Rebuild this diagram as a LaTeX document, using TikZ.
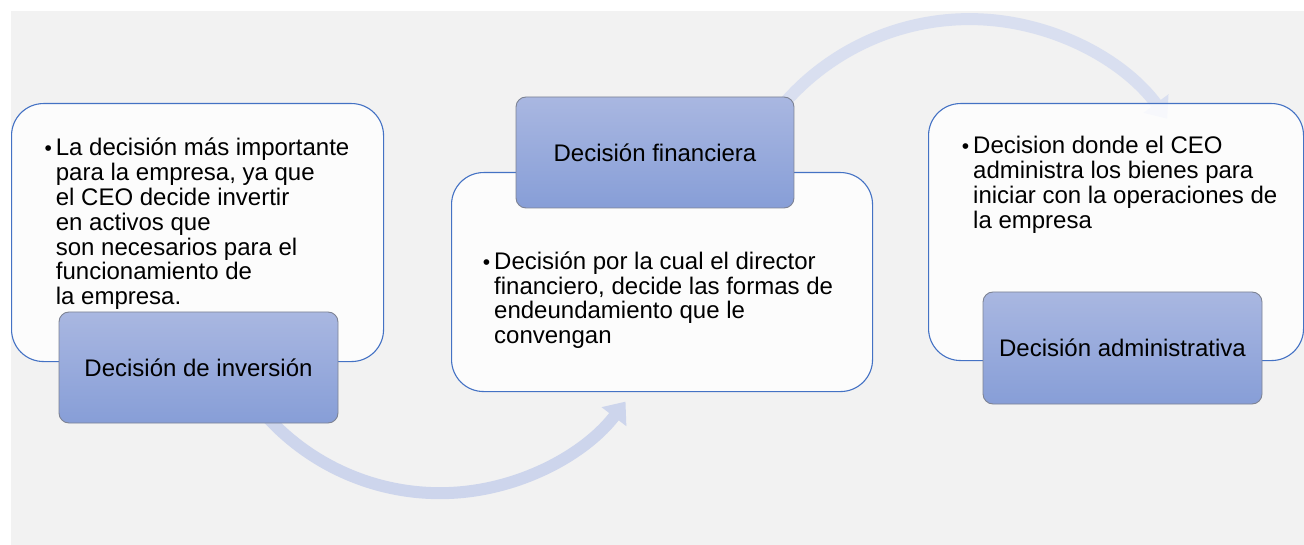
\documentclass[tikz,border=0pt]{standalone}
\usepackage{fontspec}
\setmainfont{Liberation Sans}
\usetikzlibrary{arrows.meta}
\definecolor{bg}{RGB}{242,242,242}
\definecolor{boxline}{RGB}{68,114,196}
\definecolor{labtop}{RGB}{169,183,225}
\definecolor{labbot}{RGB}{135,158,215}
\definecolor{labline}{RGB}{125,131,148}
\definecolor{arcA}{RGB}{205,213,236}
\definecolor{arcB}{RGB}{217,223,240}
\newcommand{\bul}{\leavevmode\llap{\raisebox{0.5pt}{\fontsize{21}{21}\selectfont\textbullet}\hspace{4pt}}}
\begin{document}
\begin{tikzpicture}[x=1pt,y=1pt,
  txtbox/.style={draw=boxline, line width=1.1pt, fill=white, fill opacity=0.8,
    rounded corners=32pt, rectangle, inner sep=0pt, anchor=north west},
  labbox/.style={rectangle, rounded corners=10pt, draw=labline, line width=0.9pt,
    top color=labtop, bottom color=labbot, inner sep=0pt,
    font=\fontsize{24}{28}\selectfont, text=black},
  bodytext/.style={anchor=base west, inner sep=0pt, text=black},
  flowA/.style={draw=arcA, line width=12pt, -{Triangle[width=30pt,length=19pt]}},
  flowB/.style={draw=arcB, line width=12pt, -{Triangle[width=30pt,length=19pt]}}
]
\useasboundingbox (0,0) rectangle (1304,-545);
\fill[bg] (11,-11) rectangle (1304,-545);

% flow arcs (start hidden under the label boxes)
\coordinate (a1s) at (253,-400);
\coordinate (a2s) at (768,-124);
\draw[flowA] (a1s) arc[start angle=-143, end angle=-37.5, radius=234];
\draw[flowB] (a2s) arc[start angle=145, end angle=36.5, radius=246];

% text boxes
\node[txtbox, minimum width=372pt, minimum height=258pt] (b1) at (11,-103) {};
\node[txtbox, minimum width=421pt, minimum height=219pt] (b2) at (451,-172) {};
\node[txtbox, minimum width=375pt, minimum height=257pt] (b3) at (928,-103) {};

\node[bodytext] (t1) at (55.7,-155.7) {\parbox[t]{320pt}{\fontsize{24}{24.85}\selectfont\raggedright
\bul La decisión más importante\\
para la empresa, ya que\\
el CEO decide invertir\\
en activos que\\
son necesarios para el\\
funcionamiento de\\
la empresa.}};

\node[bodytext] (t2) at (494,-270) {\parbox[t]{370pt}{\fontsize{24}{24.4}\selectfont\raggedright
\bul Decisión por la cual el director\\
financiero, decide las formas de\\
endeundamiento que le\\
convengan}};

\node[bodytext] (t3) at (973,-154) {\parbox[t]{330pt}{\fontsize{24}{25}\selectfont\raggedright
\bul Decision donde el CEO\\
administra los bienes para\\
iniciar con la operaciones de\\
la empresa}};

% label boxes
\node[labbox, minimum width=279pt, minimum height=111pt] (l1) at (198.5,-367.5) {Decisión de inversión};
\node[labbox, minimum width=278pt, minimum height=111pt] (l2) at (655,-152.5) {Decisión financiera};
\node[labbox, minimum width=279pt, minimum height=112pt] (l3) at (1122.5,-348) {Decisión administrativa};
\end{tikzpicture}
\end{document}
